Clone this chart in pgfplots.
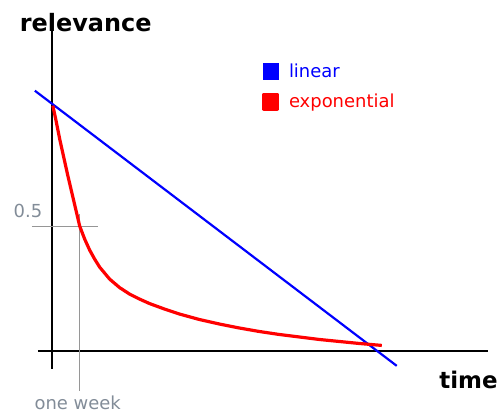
\documentclass[border=0pt]{standalone}
\usepackage{pgfplots}
\pgfplotsset{compat=1.18}
\usepackage{fontspec}
\setmainfont{DejaVu Sans}
\definecolor{lbl}{RGB}{130,140,152}
\definecolor{gl}{RGB}{150,150,150}
\begin{document}
\begin{tikzpicture}
\begin{axis}[
  width=501pt, height=413pt, scale only axis,
  xmin=0, xmax=501, ymin=0, ymax=413, y dir=reverse,
  axis line style={draw=none}, ticks=none, clip=false,
  legend style={at={(axis cs:263,62)}, anchor=north west, draw=none, fill=none,
    font=\fontsize{18}{20}\selectfont, row sep=11pt, inner sep=0pt, cells={anchor=west}},
  legend cell align=left,
]
% axes
\addplot[black, line width=1.6pt, forget plot] coordinates {(52,30) (52,370)};
\addplot[black, line width=1.6pt, forget plot] coordinates {(38,352) (490,352)};
% guide lines
\addplot[gl, line width=1.1pt, forget plot] coordinates {(32,227) (98,227)};
\addplot[gl, line width=1.1pt, forget plot] coordinates {(80,215) (80,392)};
% series
\addplot[blue, line width=2.2pt,
  legend image code/.code={\fill[blue] (0pt,-7.5pt) rectangle (14pt,7.5pt);}]
  coordinates {(35,91) (398,367)};
\addlegendentry{\hspace*{8pt}\textcolor{blue}{linear}}
\addplot[red, line width=3.2pt, line join=round,
  legend image code/.code={\fill[red] (0pt,-7.5pt) rectangle (13pt,7.5pt);}]
  coordinates {
(53,106)(56,120)(60,140)(64,158)(68,176)(72,193)(76,210)(80,227)(85,240)(90,251)
(95,260)(100,268)(110,280)(120,288.5)(130,295)(140,300)(150,304.5)(165,310)
(180,315)(200,320.5)(220,325)(240,329)(260,332.5)(280,335.5)(300,338)(320,340.5)
(340,342.5)(360,344.5)(383,346.5)};
\addlegendentry{\hspace*{8pt}\textcolor{red}{exponential}}
% texts
\node[font=\fontsize{24}{26}\selectfont\bfseries] at (axis cs:86,23) {relevance};
\node[font=\fontsize{23}{25}\selectfont\bfseries] at (axis cs:470,381) {time};
\node[lbl, font=\fontsize{18}{20}\selectfont] at (axis cs:28,212) {0.5};
\node[lbl, font=\fontsize{18}{20}\selectfont] at (axis cs:78,404) {one week};
\end{axis}
\end{tikzpicture}
\end{document}
